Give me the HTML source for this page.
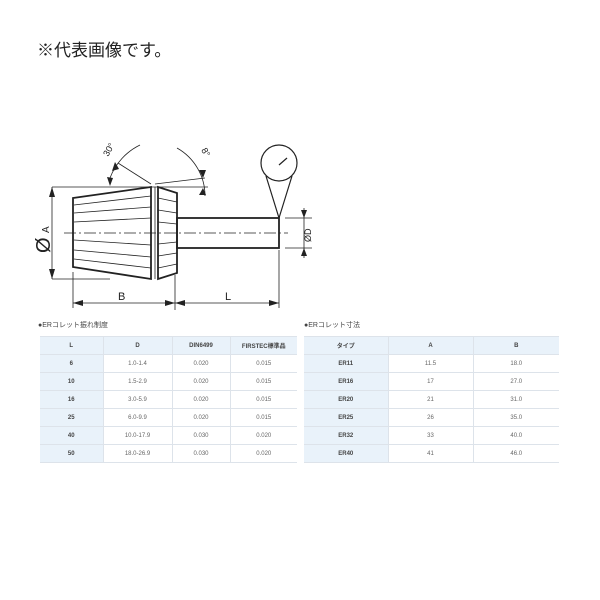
<!DOCTYPE html>
<html><head><meta charset="utf-8"><style>
body{margin:0;width:600px;height:600px;background:#fff;position:relative;overflow:hidden;font-family:"Liberation Sans","Noto Sans CJK JP",sans-serif}
.t{position:absolute;left:37px;top:36px;font-size:17px;color:#222}
.cap{position:absolute;font-size:7px;color:#444}
table{position:absolute;border-collapse:collapse;font-size:6px;color:#666}
td{height:17px;border-bottom:1px solid #dde3ea;text-align:center;padding:0}
tr.h td{background:#e9f2fa;font-weight:bold;color:#444;border-top:1px solid #dde3ea}
td.f{background:#e9f2fa;font-weight:bold;color:#444}
td+td{border-left:1px solid #dde3ea}
</style></head><body>
<div class="t">※代表画像です。</div>
<svg width="600" height="600" style="position:absolute;left:0;top:0" fill="none" stroke="#222" stroke-width="1.2">
<polygon points="73,198 151,187 151,279 73,267" stroke-width="1.8"/>
<polygon points="158,187 177,193 177,273 158,279" stroke-width="1.8"/>
<g stroke-width="0.8">
<line x1="74" y1="205" x2="151" y2="196"/><line x1="74" y1="213" x2="151" y2="207"/><line x1="74" y1="222" x2="151" y2="218"/>
<line x1="74" y1="240" x2="151" y2="245"/><line x1="74" y1="250" x2="151" y2="257"/><line x1="74" y1="259" x2="151" y2="268"/>
<line x1="158" y1="198" x2="177" y2="202"/><line x1="158" y1="210" x2="177" y2="213"/><line x1="158" y1="222" x2="177" y2="224"/>
<line x1="158" y1="244" x2="177" y2="242"/><line x1="158" y1="256" x2="177" y2="253"/><line x1="158" y1="268" x2="177" y2="264"/>
<line x1="155" y1="187" x2="155" y2="279"/>
</g>
<rect x="177" y="218" width="102" height="30" stroke-width="1.8"/>
<line x1="64" y1="233" x2="288" y2="233" stroke-width="0.7" stroke-dasharray="12,3,2,3"/>
<circle cx="279" cy="163" r="18"/>
<line x1="279" y1="165" x2="287" y2="158"/>
<polyline points="266,176 279,218 292,176"/>
<line x1="52" y1="187" x2="208" y2="187" stroke-width="0.8"/>
<line x1="52" y1="279" x2="110" y2="279" stroke-width="0.8"/>
<line x1="52" y1="187" x2="52" y2="279" stroke-width="0.8"/>
<line x1="73" y1="272" x2="73" y2="308" stroke-width="0.8"/>
<line x1="175" y1="275" x2="175" y2="310" stroke-width="0.8"/>
<line x1="279" y1="250" x2="279" y2="308" stroke-width="0.8"/>
<line x1="73" y1="303" x2="279" y2="303" stroke-width="0.8"/>
<line x1="285" y1="218" x2="312" y2="218" stroke-width="0.8"/>
<line x1="285" y1="248" x2="312" y2="248" stroke-width="0.8"/>
<line x1="304" y1="208" x2="304" y2="258" stroke-width="0.8"/>
<line x1="151" y1="184" x2="118" y2="163" stroke-width="0.8"/>
<line x1="155" y1="184" x2="205" y2="178" stroke-width="0.8"/>
<path d="M140,145 A60,60 0 0 0 110,178" stroke-width="0.8"/>
<path d="M177,148 A55,55 0 0 1 205,196" stroke-width="0.8"/>
<g fill="#222" stroke="none">
<polygon points="52,187 49,197 55,197"/><polygon points="52,279 49,269 55,269"/>
<polygon points="73,303 83,300 83,306"/><polygon points="175,303 165,300 165,306"/><polygon points="175,303 185,300 185,306"/><polygon points="279,303 269,300 269,306"/>
<polygon points="304,218 301,210 307,210"/><polygon points="304,248 301,256 307,256"/>
<polygon points="110,186 107,177 113,178"/><polygon points="115,162 112,171 119,169"/>
<polygon points="203,178 199,170 206,170"/><polygon points="203,188 199,195 206,195"/>
</g>
<g fill="#222" stroke="none" font-family="Liberation Sans">
<text x="118" y="300" font-size="11">B</text><text x="225" y="300" font-size="11">L</text>
<text transform="translate(50,253) rotate(-90)" font-size="20">Ø</text>
<text transform="translate(49,233) rotate(-90)" font-size="10">A</text>
<text transform="translate(311,242) rotate(-90)" font-size="9">ØD</text>
<text transform="translate(108,157) rotate(-60)" font-size="9">30°</text>
<text transform="translate(201,150) rotate(60)" font-size="9">8°</text>
</g>
</svg>
<div class="cap" style="left:38px;top:320px">●ERコレット振れ制度</div>
<div class="cap" style="left:304px;top:320px">●ERコレット寸法</div>
<table style="left:40px;top:336px;width:257px">
<colgroup><col style="width:63px"><col style="width:69px"><col style="width:58px"><col style="width:67px"></colgroup>
<tr class="h"><td>L</td><td>D</td><td>DIN6499</td><td>FIRSTEC標準品</td></tr>
<tr><td class="f">6</td><td>1.0-1.4</td><td>0.020</td><td>0.015</td></tr>
<tr><td class="f">10</td><td>1.5-2.9</td><td>0.020</td><td>0.015</td></tr>
<tr><td class="f">16</td><td>3.0-5.9</td><td>0.020</td><td>0.015</td></tr>
<tr><td class="f">25</td><td>6.0-9.9</td><td>0.020</td><td>0.015</td></tr>
<tr><td class="f">40</td><td>10.0-17.9</td><td>0.030</td><td>0.020</td></tr>
<tr><td class="f">50</td><td>18.0-26.9</td><td>0.030</td><td>0.020</td></tr>
</table>
<table style="left:304px;top:336px;width:255px">
<colgroup><col style="width:84px"><col style="width:85px"><col style="width:86px"></colgroup>
<tr class="h"><td>タイプ</td><td>A</td><td>B</td></tr>
<tr><td class="f">ER11</td><td>11.5</td><td>18.0</td></tr>
<tr><td class="f">ER16</td><td>17</td><td>27.0</td></tr>
<tr><td class="f">ER20</td><td>21</td><td>31.0</td></tr>
<tr><td class="f">ER25</td><td>26</td><td>35.0</td></tr>
<tr><td class="f">ER32</td><td>33</td><td>40.0</td></tr>
<tr><td class="f">ER40</td><td>41</td><td>46.0</td></tr>
</table>
</body></html>
